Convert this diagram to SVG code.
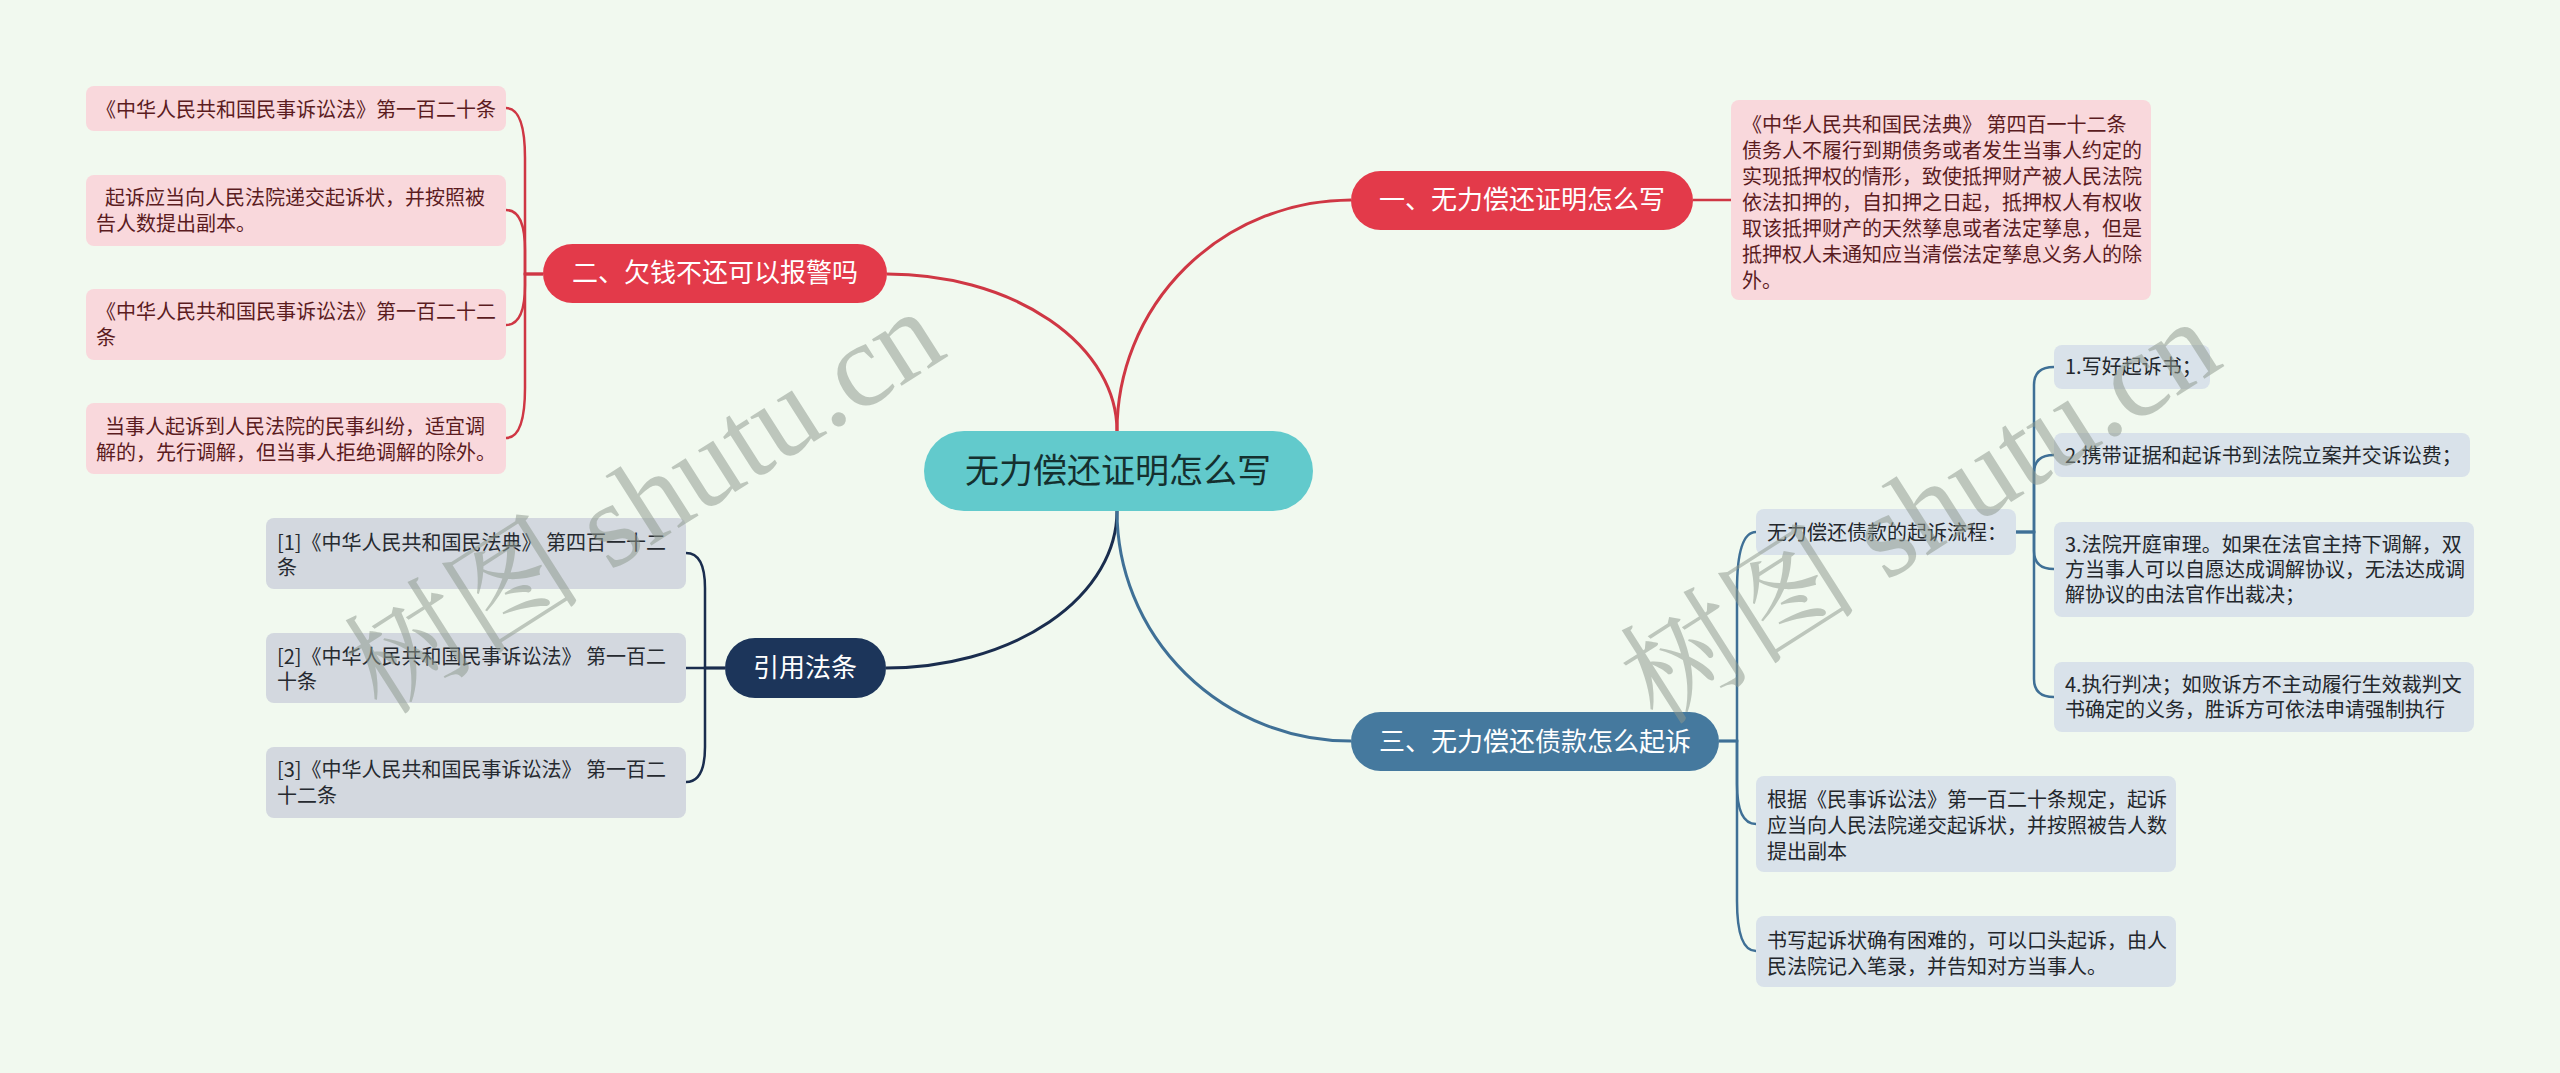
<svg xmlns="http://www.w3.org/2000/svg" width="2560" height="1073" viewBox="0 0 2560 1073">
<style>
text{font-family:"Noto Sans CJK SC","Noto Sans",sans-serif;}
.bg{fill:#f1f9ef;}
.pink{fill:#f9d8dc;}
.pinkt{font-size:20px;fill:#5b1c1f;}
.gray{fill:#d3d8df;}
.grayt{font-size:20px;fill:#262a30;}
.blue{fill:#d9e2ea;}
.bluet{font-size:20px;fill:#23272c;}
.red{fill:#e33a4a;}
.lvl1t{font-size:26px;fill:#ffffff;text-anchor:middle;}
.cr{fill:none;stroke:#cf3744;stroke-width:3;}
.cn{fill:none;stroke:#1a2d4e;stroke-width:3;}
.cb{fill:none;stroke:#3f7096;stroke-width:3;}
.crs{fill:none;stroke:#cf3744;stroke-width:2.5;}
.cns{fill:none;stroke:#1a2d4e;stroke-width:2.5;}
.cbs{fill:none;stroke:#3f7096;stroke-width:2.5;}
.wm{font-family:"Liberation Serif","Noto Serif CJK SC","Noto Sans CJK SC",serif;font-size:120px;fill:#8e998e;opacity:0.52;text-anchor:middle;}
</style>
<rect class="bg" x="0" y="0" width="2560" height="1073"/>

<g id="connectors">
<path class="cr" d="M 1117 431 A 234 231 0 0 1 1351 200"/>
<path class="cr" d="M 1117 431 A 230 157 0 0 0 887 274"/>
<path class="cn" d="M 1117 511 A 231 157 0 0 1 886 668"/>
<path class="cb" d="M 1117 511 A 234 230 0 0 0 1351 741"/>
<path class="crs" d="M 1693 200 L 1731 200"/>
<path class="crs" d="M 543 274 H 525 V 158 Q 525 108 506 108"/>
<path class="crs" d="M 543 274 H 525 V 250 Q 525 210 506 210"/>
<path class="crs" d="M 543 274 H 525 V 285 Q 525 325 506 325"/>
<path class="crs" d="M 543 274 H 525 V 388 Q 525 438 506 438"/>
<path class="cns" d="M 725 668 H 705 V 588 Q 705 553 686 553"/>
<path class="cns" d="M 725 668 H 686"/>
<path class="cns" d="M 725 668 H 705 V 747 Q 705 782 686 782"/>
<path class="cbs" d="M 1719 741 H 1737 V 590 Q 1737 532 1756 532"/>
<path class="cbs" d="M 1719 741 H 1737 V 784 Q 1737 824 1756 824"/>
<path class="cbs" d="M 1719 741 H 1737 V 901 Q 1737 951 1756 951"/>
<path class="cbs" d="M 2016 532 H 2034 V 385 Q 2034 367 2054 367"/>
<path class="cbs" d="M 2016 532 H 2034 V 473 Q 2034 455 2054 455"/>
<path class="cbs" d="M 2016 532 H 2034 V 551 Q 2034 569 2054 569"/>
<path class="cbs" d="M 2016 532 H 2034 V 679 Q 2034 697 2054 697"/>
</g>

<g id="root">
<rect x="924" y="431" width="389" height="80" rx="40" fill="#62cacc"/>
<text x="1118" y="483" font-size="34" fill="#15302f" text-anchor="middle">无力偿还证明怎么写</text>
</g>

<g id="n1">
<rect class="red" x="1351" y="171" width="342" height="59" rx="29.5"/>
<text class="lvl1t" x="1522" y="209">一、无力偿还证明怎么写</text>
</g>
<g id="n1a">
<rect class="pink" x="1731" y="100" width="420" height="200" rx="8"/>
<text class="pinkt" x="1742" y="132">《中华人民共和国民法典》 第四百一十二条</text>
<text class="pinkt" x="1742" y="158">债务人不履行到期债务或者发生当事人约定的</text>
<text class="pinkt" x="1742" y="184">实现抵押权的情形，致使抵押财产被人民法院</text>
<text class="pinkt" x="1742" y="210">依法扣押的，自扣押之日起，抵押权人有权收</text>
<text class="pinkt" x="1742" y="236">取该抵押财产的天然孳息或者法定孳息，但是</text>
<text class="pinkt" x="1742" y="262">抵押权人未通知应当清偿法定孳息义务人的除</text>
<text class="pinkt" x="1742" y="288">外。</text>
</g>

<g id="n2">
<rect class="red" x="543" y="244" width="344" height="59" rx="29.5"/>
<text class="lvl1t" x="715" y="282">二、欠钱不还可以报警吗</text>
</g>
<g id="n2a">
<rect class="pink" x="86" y="86" width="420" height="45" rx="8"/>
<text class="pinkt" x="96" y="117">《中华人民共和国民事诉讼法》第一百二十条</text>
</g>
<g id="n2b">
<rect class="pink" x="86" y="175" width="420" height="71" rx="8"/>
<text class="pinkt" x="96" y="205" xml:space="preserve">  起诉应当向人民法院递交起诉状，并按照被</text>
<text class="pinkt" x="96" y="231">告人数提出副本。</text>
</g>
<g id="n2c">
<rect class="pink" x="86" y="289" width="420" height="71" rx="8"/>
<text class="pinkt" x="96" y="319">《中华人民共和国民事诉讼法》第一百二十二</text>
<text class="pinkt" x="96" y="345">条</text>
</g>
<g id="n2d">
<rect class="pink" x="86" y="403" width="420" height="71" rx="8"/>
<text class="pinkt" x="96" y="434" xml:space="preserve">  当事人起诉到人民法院的民事纠纷，适宜调</text>
<text class="pinkt" x="96" y="460">解的，先行调解，但当事人拒绝调解的除外。</text>
</g>

<g id="n3">
<rect x="725" y="638" width="161" height="60" rx="30" fill="#1c355a"/>
<text class="lvl1t" x="805" y="677">引用法条</text>
</g>
<g id="n3a">
<rect class="gray" x="266" y="518" width="420" height="71" rx="8"/>
<text class="grayt" x="277" y="550">[1]《中华人民共和国民法典》 第四百一十二</text>
<text class="grayt" x="277" y="575">条</text>
</g>
<g id="n3b">
<rect class="gray" x="266" y="633" width="420" height="70" rx="8"/>
<text class="grayt" x="277" y="664">[2]《中华人民共和国民事诉讼法》 第一百二</text>
<text class="grayt" x="277" y="689">十条</text>
</g>
<g id="n3c">
<rect class="gray" x="266" y="747" width="420" height="71" rx="8"/>
<text class="grayt" x="277" y="777">[3]《中华人民共和国民事诉讼法》 第一百二</text>
<text class="grayt" x="277" y="803">十二条</text>
</g>

<g id="n4">
<rect x="1351" y="712" width="368" height="59" rx="29.5" fill="#45799e"/>
<text class="lvl1t" x="1535" y="751">三、无力偿还债款怎么起诉</text>
</g>
<g id="n4a">
<rect class="blue" x="1756" y="509" width="260" height="46" rx="8"/>
<text class="bluet" x="1767" y="540">无力偿还债款的起诉流程：</text>
</g>
<g id="n4a1">
<rect class="blue" x="2054" y="345" width="156" height="44" rx="8"/>
<text class="bluet" x="2065" y="374">1.写好起诉书；</text>
</g>
<g id="n4a2">
<rect class="blue" x="2054" y="433" width="416" height="44" rx="8"/>
<text class="bluet" x="2065" y="463">2.携带证据和起诉书到法院立案并交诉讼费；</text>
</g>
<g id="n4a3">
<rect class="blue" x="2054" y="522" width="420" height="95" rx="8"/>
<text class="bluet" x="2065" y="552">3.法院开庭审理。如果在法官主持下调解，双</text>
<text class="bluet" x="2065" y="577">方当事人可以自愿达成调解协议，无法达成调</text>
<text class="bluet" x="2065" y="602">解协议的由法官作出裁决；</text>
</g>
<g id="n4a4">
<rect class="blue" x="2054" y="662" width="420" height="70" rx="8"/>
<text class="bluet" x="2065" y="692">4.执行判决；如败诉方不主动履行生效裁判文</text>
<text class="bluet" x="2065" y="717">书确定的义务，胜诉方可依法申请强制执行</text>
</g>
<g id="n4b">
<rect class="blue" x="1756" y="776" width="420" height="96" rx="8"/>
<text class="bluet" x="1767" y="807">根据《民事诉讼法》第一百二十条规定，起诉</text>
<text class="bluet" x="1767" y="833">应当向人民法院递交起诉状，并按照被告人数</text>
<text class="bluet" x="1767" y="859">提出副本</text>
</g>
<g id="n4c">
<rect class="blue" x="1756" y="916" width="420" height="71" rx="8"/>
<text class="bluet" x="1767" y="948">书写起诉状确有困难的，可以口头起诉，由人</text>
<text class="bluet" x="1767" y="974">民法院记入笔录，并告知对方当事人。</text>
</g>

<g id="watermark">
<text class="wm" transform="translate(666,536) rotate(-32.5)">树图 shutu.cn</text>
<text class="wm" transform="translate(1942,546) rotate(-32.5)">树图 shutu.cn</text>
</g>
</svg>
